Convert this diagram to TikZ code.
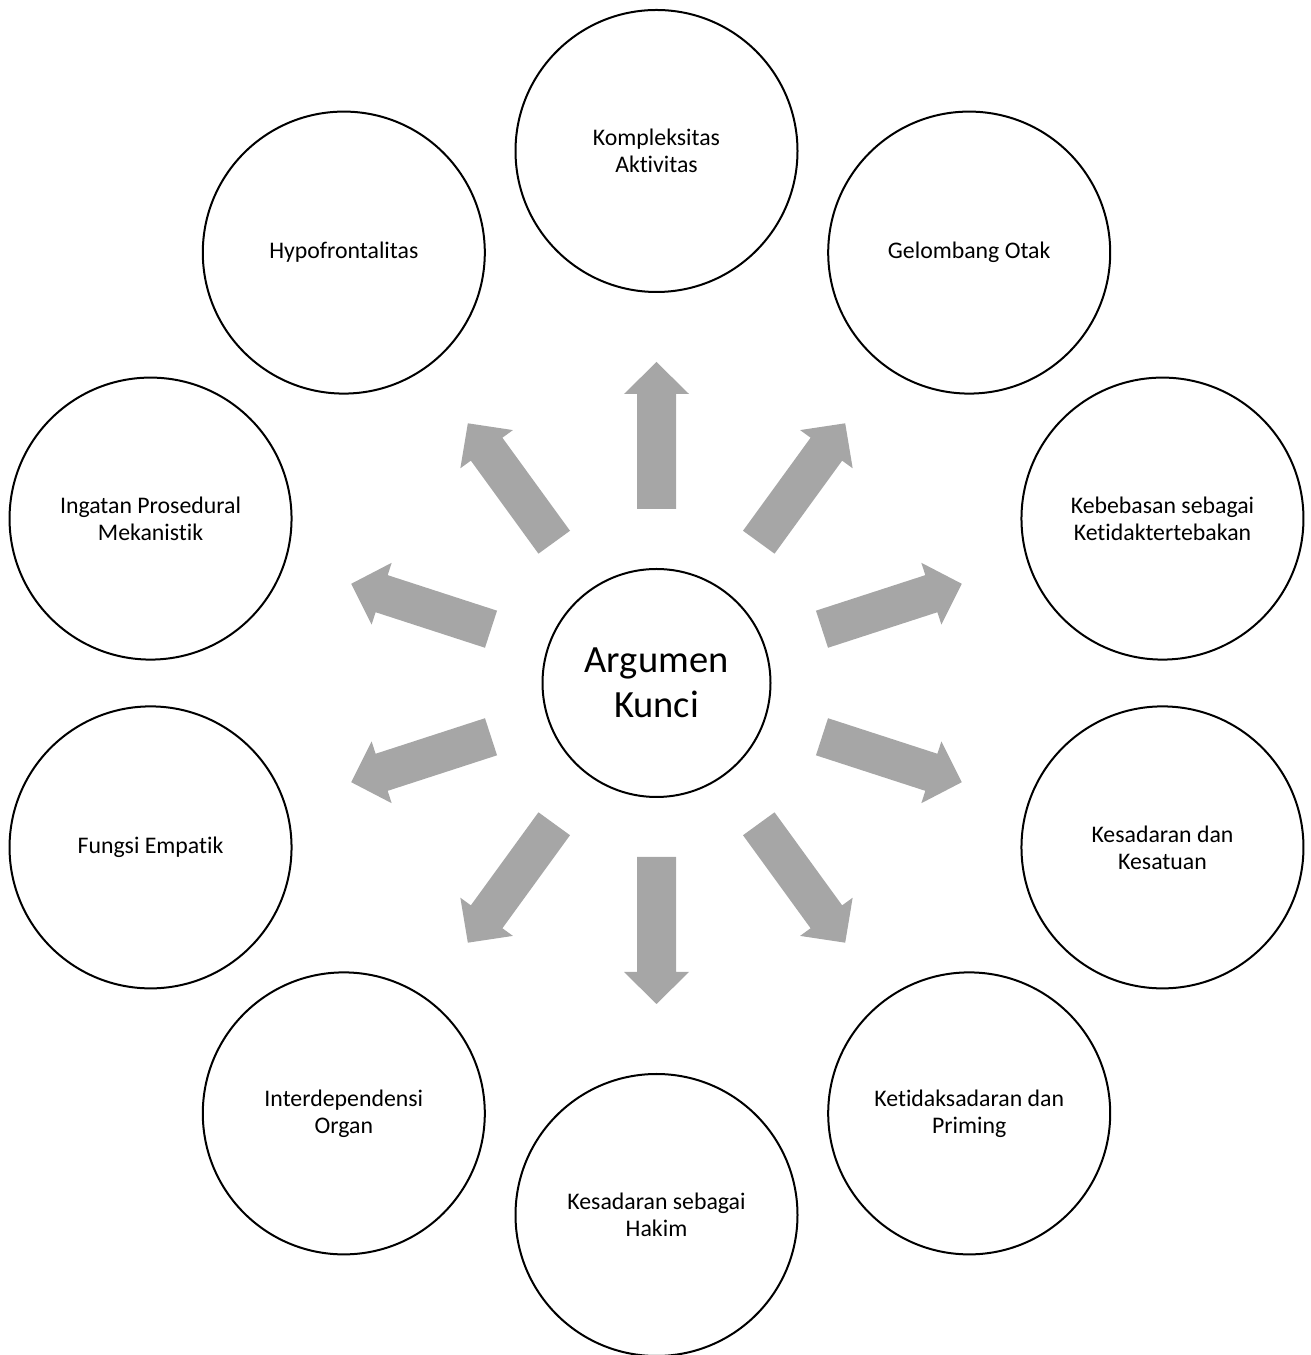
\documentclass[tikz,border=0pt]{standalone}
\usepackage{fontspec}
\setmainfont{Carlito}[Ligatures={NoCommon}]
\usetikzlibrary{calc}
\begin{document}
\begin{tikzpicture}[x=1pt,y=1pt,
  hub/.style={circle,draw=black,line width=2pt,fill=white,inner sep=0pt,
    minimum size=228pt,align=center,
    font=\fontsize{38.5pt}{45pt}\selectfont},
  topic/.style={circle,draw=black,line width=2pt,fill=white,inner sep=0pt,
    minimum size=282pt,align=center,
    font=\fontsize{23.8pt}{27pt}\selectfont},
  blockarrow/.style={fill=arrowgray,draw=none}]
\definecolor{arrowgray}{HTML}{A6A6A6}
\useasboundingbox (0,0) rectangle (1310,1355);
\clip (0,0) rectangle (1310,1355);

\coordinate (C) at (656.5,672);
\def\ringR{532}

% centre circle
\node[hub] (hub) at (C) {Argumen\\Kunci};

% surrounding topics, every 36 degrees
\node[topic] (t1)  at ($(C)+(90:\ringR)$)   {Kompleksitas\\Aktivitas};
\node[topic] (t2)  at ($(C)+(54:\ringR)$)   {Gelombang Otak};
\node[topic] (t3)  at ($(C)+(18:\ringR)$)   {Kebebasan sebagai\\Ketidaktertebakan};
\node[topic] (t4)  at ($(C)+(-18:\ringR)$)  {Kesadaran dan\\Kesatuan};
\node[topic] (t5)  at ($(C)+(-54:\ringR)$)  {Ketidaksadaran dan\\Priming};
\node[topic] (t6)  at ($(C)+(-90:\ringR)$)  {Kesadaran sebagai\\Hakim};
\node[topic] (t7)  at ($(C)+(-126:\ringR)$) {Interdependensi\\Organ};
\node[topic] (t8)  at ($(C)+(-162:\ringR)$) {Fungsi Empatik};
\node[topic] (t9)  at ($(C)+(162:\ringR)$)  {Ingatan Prosedural\\Mekanistik};
\node[topic] (t10) at ($(C)+(126:\ringR)$)  {Hypofrontalitas};

% block arrows pointing from the hub towards each topic
\foreach \a in {90,54,18,-18,-54,-90,-126,-162,162,126}{
  \begin{scope}[shift={(C)},rotate=\a]
    \fill[blockarrow] (174,-19.5) -- (289,-19.5) -- (289,-32.5) -- (321,0)
      -- (289,32.5) -- (289,19.5) -- (174,19.5) -- cycle;
  \end{scope}
}
\end{tikzpicture}
\end{document}
